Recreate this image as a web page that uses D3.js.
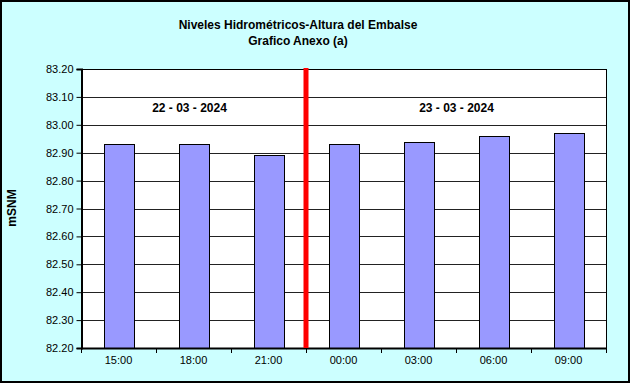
<!DOCTYPE html>
<html>
<head>
<meta charset="utf-8">
<script src="https://cdn.jsdelivr.net/npm/d3@7"></script>
<style>
  body { margin: 0; background: #fff; }
  text { font-family: Arial, "Liberation Sans", sans-serif; }
</style>
</head>
<body>
<div id="chart"></div>
<script>
const width = 633;
const height = 386;

const hours = ["15:00", "18:00", "21:00", "00:00", "03:00", "06:00", "09:00"];
const levels = [82.93, 82.93, 82.89, 82.93, 82.94, 82.96, 82.97];
const yTicks = [82.20, 82.30, 82.40, 82.50, 82.60, 82.70, 82.80, 82.90, 83.00, 83.10, 83.20];
const dates = ["22 - 03 - 2024", "23 - 03 - 2024"];

const plot = { left: 81, right: 606, top: 69, bottom: 348 };

const svg = d3.select("#chart")
    .append("svg")
    .attr("width", width)
    .attr("height", height);

// outer frame
svg.append("rect")
    .attr("x", 1).attr("y", 1)
    .attr("width", 628).attr("height", 381)
    .attr("fill", "#CCFFFF")
    .attr("stroke", "#000")
    .attr("stroke-width", 2);

const x = d3.scaleBand()
    .domain(hours)
    .range([plot.left, plot.right])
    .paddingInner(0.6)
    .paddingOuter(0.3);

const y = d3.scaleLinear()
    .domain([82.2, 83.2])
    .range([plot.bottom, plot.top]);

svg.append("rect")
    .attr("x", plot.left).attr("y", plot.top)
    .attr("width", plot.right - plot.left)
    .attr("height", plot.bottom - plot.top)
    .attr("fill", "#fff");

// gridlines
svg.append("g")
    .selectAll("line")
    .data(yTicks.slice(1))
    .join("line")
    .attr("x1", plot.left).attr("x2", plot.right)
    .attr("y1", d => Math.round(y(d)) + 0.5)
    .attr("y2", d => Math.round(y(d)) + 0.5)
    .attr("stroke", "#222");

// bars
svg.append("g")
    .selectAll("rect")
    .data(levels)
    .join("rect")
    .attr("x", (d, i) => Math.round(x(hours[i])) + 0.5)
    .attr("y", d => Math.round(y(d)) + 0.5)
    .attr("width", x.bandwidth())
    .attr("height", d => plot.bottom - Math.round(y(d)))
    .attr("fill", "#9999FF")
    .attr("stroke", "#000");

// plot border
svg.append("rect")
    .attr("x", plot.left + 0.5).attr("y", plot.top + 0.5)
    .attr("width", plot.right - plot.left)
    .attr("height", plot.bottom - plot.top)
    .attr("fill", "none")
    .attr("stroke", "#000");

// y axis
const yAxis = svg.append("g")
    .attr("transform", `translate(${plot.left + 0.5},0)`)
    .call(d3.axisLeft(y).tickValues(yTicks).tickFormat(d3.format(".2f")).tickSize(5).tickPadding(3));
yAxis.select(".domain").attr("stroke-width", 2);
yAxis.selectAll("text").attr("font-size", 11).attr("fill", "#000");

// x axis: ticks at category boundaries
const step = x.step();
const xAxis = svg.append("g");
xAxis.selectAll("line")
    .data(d3.range(hours.length + 1))
    .join("line")
    .attr("x1", i => Math.round(plot.left + i * (plot.right - plot.left) / hours.length) + 0.5)
    .attr("x2", i => Math.round(plot.left + i * (plot.right - plot.left) / hours.length) + 0.5)
    .attr("y1", plot.bottom)
    .attr("y2", plot.bottom + 5)
    .attr("stroke", "#000");
xAxis.append("line")
    .attr("x1", plot.left).attr("x2", plot.right + 1)
    .attr("y1", plot.bottom + 0.5).attr("y2", plot.bottom + 0.5)
    .attr("stroke", "#000").attr("stroke-width", 2);
xAxis.selectAll("text")
    .data(hours)
    .join("text")
    .attr("x", d => x(d) + x.bandwidth() / 2)
    .attr("y", plot.bottom + 16)
    .attr("text-anchor", "middle")
    .attr("font-size", 11)
    .text(d => d);

// red separator between days
const sepX = (x("21:00") + x.bandwidth() + x("00:00")) / 2;
svg.append("line")
    .attr("x1", sepX).attr("x2", sepX)
    .attr("y1", plot.top - 1).attr("y2", plot.bottom)
    .attr("stroke", "#FF0000")
    .attr("stroke-width", 5);

// date labels
svg.append("text")
    .attr("x", x("18:00") + x.bandwidth() / 2 - 4)
    .attr("y", 112)
    .attr("text-anchor", "middle")
    .attr("font-size", 12).attr("font-weight", "bold")
    .text(dates[0]);
svg.append("text")
    .attr("x", x("03:00") + x.bandwidth() / 2 + 38)
    .attr("y", 112)
    .attr("text-anchor", "middle")
    .attr("font-size", 12).attr("font-weight", "bold")
    .text(dates[1]);

// title
svg.append("text")
    .attr("x", 298).attr("y", 29)
    .attr("text-anchor", "middle")
    .attr("font-size", 12).attr("font-weight", "bold")
    .text("Niveles Hidrométricos-Altura del Embalse");
svg.append("text")
    .attr("x", 298).attr("y", 45)
    .attr("text-anchor", "middle")
    .attr("font-size", 12).attr("font-weight", "bold")
    .text("Grafico Anexo (a)");

// y axis title
svg.append("text")
    .attr("transform", "translate(16,208) rotate(-90)")
    .attr("text-anchor", "middle")
    .attr("font-size", 12).attr("font-weight", "bold")
    .text("mSNM");
</script>
</body>
</html>
